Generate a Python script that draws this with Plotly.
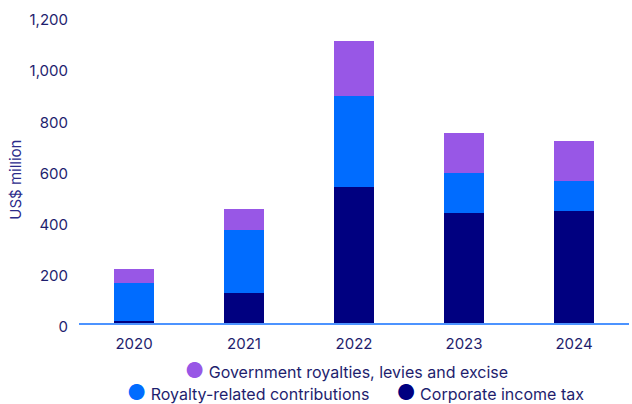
import plotly.graph_objects as go

years = ["2020", "2021", "2022", "2023", "2024"]
corporate_income_tax = [7, 116, 532, 430, 438]
royalty_related = [151, 248, 354, 156, 117]
govt_royalties = [54, 82, 218, 156, 156]

series = [
    ("Corporate income tax", corporate_income_tax, "#000080"),
    ("Royalty-related contributions", royalty_related, "#006CFF"),
    ("Government royalties, levies and excise", govt_royalties, "#9857E6"),
]
colors = {name: color for name, _, color in series}

TEXT = "#1E1E6E"
FONT = "Inter"

# plot area geometry (pixels)
L, R, T, B = 79, 3, 16, 80.5
H = 404 - T - B
W = 632 - L - R

fig = go.Figure()
for name, vals, color in series:
    fig.add_trace(go.Bar(
        x=years, y=vals, name=name, marker=dict(color=color, line=dict(width=0)),
        showlegend=False,
    ))


def entry(name):
    return (f'<span style="color:{colors[name]};font-size:21px">●</span>'
            f' {name}')


legend_rows = [
    (entry("Government royalties, levies and excise"), 346.5, 371),
    (entry("Royalty-related contributions") + "&nbsp;" * 6 + entry("Corporate income tax"), 355, 393),
]

annotations = [dict(
    text="US$ million", textangle=-90, xref="paper", yref="paper",
    x=(16 - L) / W, y=(404 - B - 180) / H, xanchor="center", yanchor="middle",
    showarrow=False, font=dict(size=15, color="#2B2B8A"),
)]
for text, cx, cy in legend_rows:
    annotations.append(dict(
        text=text, xref="paper", yref="paper",
        x=(cx - L) / W, y=(404 - B - cy) / H, xanchor="center", yanchor="middle",
        showarrow=False, font=dict(size=16, color=TEXT),
    ))

fig.update_layout(
    width=632, height=404,
    margin=dict(l=L, r=R, t=T, b=B, autoexpand=False),
    barmode="stack", bargap=0.645,
    plot_bgcolor="white", paper_bgcolor="white",
    font=dict(family=FONT, color=TEXT, size=14),
    showlegend=False,
    xaxis=dict(
        showgrid=False, showline=True, linecolor="#4C93FF", linewidth=1.5,
        ticks="", tickfont=dict(size=15, color=TEXT), ticklabelstandoff=6,
    ),
    yaxis=dict(
        range=[0, 1200], tickvals=[0, 200, 400, 600, 800, 1000, 1200],
        tickformat=",", showgrid=False, zeroline=False, showline=False,
        ticks="", tickfont=dict(size=15, color=TEXT), ticklabelstandoff=10,
        ticklabelshift=4,
    ),
    annotations=annotations,
)

fig.write_html("out.html")
